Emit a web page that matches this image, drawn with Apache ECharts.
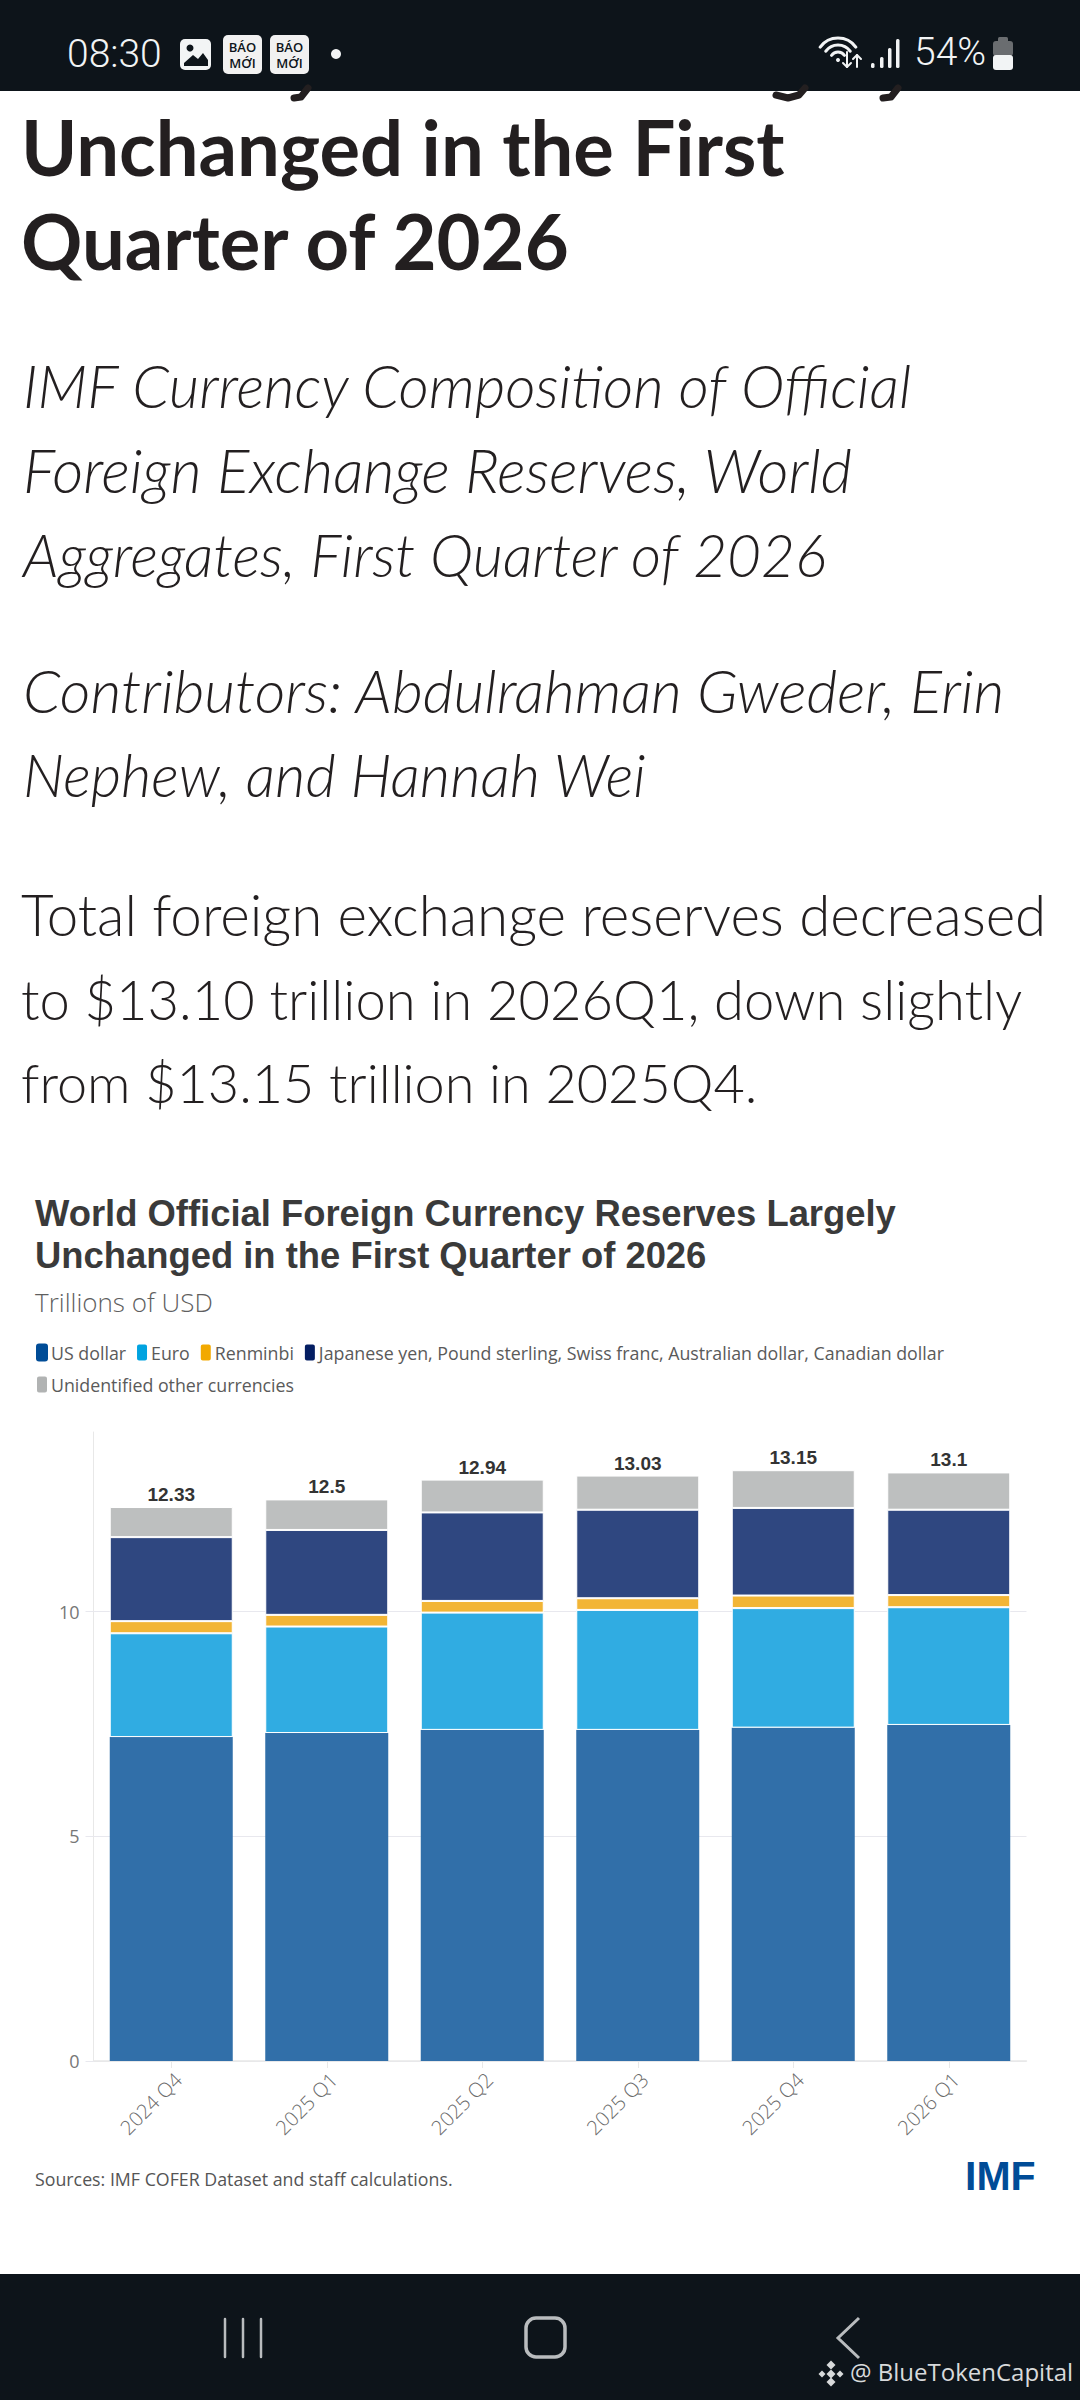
<!DOCTYPE html>
<html><head><meta charset="utf-8">
<style>html,body{margin:0;padding:0;background:#fff}#c{width:1080px;height:2400px}</style>
<script src="https://cdn.jsdelivr.net/npm/echarts@6/dist/echarts.min.js"></script>
</head><body><div id="c"></div>
<script>
const categories = ['2024 Q4','2025 Q1','2025 Q2','2025 Q3','2025 Q4','2026 Q1'];
const usDollar = [7.21,7.30,7.37,7.37,7.42,7.48];
const euro = [2.31,2.37,2.61,2.67,2.66,2.62];
const renminbi = [0.27,0.26,0.26,0.26,0.28,0.27];
const otherMajor = [1.87,1.89,1.97,1.97,1.95,1.90];
const unidentified = [0.67,0.68,0.73,0.76,0.84,0.83];
const totals = [12.33,12.5,12.94,13.03,13.15,13.1];
const seriesNames = ['US dollar','Euro','Renminbi','Japanese yen, Pound sterling, Swiss franc, Australian dollar, Canadian dollar','Unidentified other currencies'];
const barColors = ['#316FA9','#30ACE2','#F2B535','#2F4780','#BDBFBF'];
const legendColors = ['#004C97','#00A3E0','#F2A900','#041E62','#B1B3B3'];
const articleHeading = [['Unchanged in the First',178],['Quarter of 2026',272]];
const articleItalic = [['IMF Currency Composition of Official',410,59],['Foreign Exchange Reserves, World',494,60.4],['Aggregates, First Quarter of 2026',578,58.6],['Contributors: Abdulrahman Gweder, Erin',715,59.7],['Nephew, and Hannah Wei',799,58.7]];
const articleBody = [['Total foreign exchange reserves decreased',937,56.5],['to $13.10 trillion in 2026Q1, down slightly',1021,54.3],['from $13.15 trillion in 2025Q4.',1105,54]];

const DARK='#0D141A', WHITE='#F2F4F5', INK='#231F20', F='Lato, "Open Sans", sans-serif', CF='"Open Sans", sans-serif';
function txt(x,y,text,size,o){o=o||{};return {type:'text',x:x,y:y+size*0.09,z:o.z||5,style:{text:text,fontSize:size,fontFamily:o.f||F,fontWeight:o.w||400,fontStyle:o.s||'normal',fill:o.c||INK,textVerticalAlign:'bottom',textBaseline:'alphabetic',textAlign:o.a||'left',lineHeight:o.lh}};}
function rect(x,y,w,h,c,r,z){return {type:'rect',z:z||10,shape:{x:x,y:y,width:w,height:h,r:r||0},style:{fill:c}};}
function line(x1,y1,x2,y2,c,w){return {type:'line',z:12,shape:{x1:x1,y1:y1,x2:x2,y2:y2},style:{stroke:c,lineWidth:w,lineCap:'round',fill:null}};}
function arc(cx,cy,r,c,w){return {type:'arc',z:12,shape:{cx:cx,cy:cy,r:r,startAngle:-Math.PI*0.80,endAngle:-Math.PI*0.20,clockwise:true},style:{stroke:c,lineWidth:w,fill:null,lineCap:'round'}};}
function poly(pts,c,w){return {type:'polyline',z:12,shape:{points:pts},style:{fill:null,stroke:c,lineWidth:w,lineCap:'round',lineJoin:'round'}};}
function diamond(cx,cy,r,c){return {type:'polygon',z:13,shape:{points:[[cx,cy-r],[cx+r,cy],[cx,cy+r],[cx-r,cy]]},style:{fill:c}};}
const g=[];
// article text
articleHeading.forEach(a=>g.push(txt(21,a[1],a[0],76,{w:700})));
articleItalic.forEach(a=>g.push(txt(23,a[1],a[0],a[2],{s:'italic',w:300})));
articleBody.forEach(a=>g.push(txt(21,a[1],a[0],a[2],{w:300})));
// descender tips of the heading line scrolled under the status bar
g.push(poly([[308,88],[301,97],[294,98]],INK,7));
g.push(poly([[805,88],[799,95],[788,98],[776,95]],INK,7));
g.push(poly([[898,88],[891,97],[883,98]],INK,7));
// bars of the phone UI
g.push(rect(0,0,1080,91,DARK,0,10));
g.push(rect(0,2274,1080,126,DARK,0,10));
// status bar left
g.push(txt(67,69.5,'08:30',39,{c:WHITE,z:12,f:'Roboto, sans-serif',w:300}));
g.push(rect(180,39,31,31,WHITE,5,12));
g.push({type:'polygon',z:13,shape:{points:[[184,66],[184,63],[193,55],[198,59],[203,53],[208,60],[208,66]]},style:{fill:DARK}});
g.push({type:'circle',z:13,shape:{cx:190,cy:48,r:3.5},style:{fill:DARK}});
[223,270].forEach(x=>{g.push(rect(x,35,39,39,'#F1F1F1',5,12));
  g.push(txt(x+19.5,52,'BÁO',13,{c:DARK,z:13,a:'center',f:CF,w:600}));
  g.push(txt(x+19.5,68,'MỚI',13,{c:DARK,z:13,a:'center',f:CF,w:600}));});
g.push({type:'circle',z:12,shape:{cx:336,cy:54,r:5},style:{fill:WHITE}});
// status bar right
[[22,3.2],[15,3.2],[8,3]].forEach(a=>g.push(arc(838,60,a[0],WHITE,a[1])));
g.push({type:'circle',z:12,shape:{cx:838,cy:60,r:2},style:{fill:WHITE}});
g.push(poly([[847,52],[847,67],[843,63]],WHITE,2));g.push(poly([[847,67],[851,63]],WHITE,2));
g.push(poly([[857,67],[857,55],[853,59]],WHITE,2));g.push(poly([[857,55],[861,59]],WHITE,2));
[[871,63],[880,57],[888,48],[896,39]].forEach(b=>g.push(rect(b[0],b[1],3.5,68-b[1],WHITE,1.5,12)));
g.push(txt(914,67.5,'54%',39,{c:WHITE,z:12,f:'Roboto, sans-serif',w:300}));
g.push(rect(998,37,10,5,'#6A6D70',1.5,12));
g.push(rect(993,41,20,15,'#6A6D70',3,12));
g.push(rect(993,55,20,15,WHITE,3,12));
// nav bar
[225,243,261].forEach(x=>g.push(line(x,2319,x,2357,'#B9BCBE',2.5)));
g.push({type:'rect',z:12,shape:{x:526,y:2318,width:39,height:39,r:10},style:{fill:null,stroke:'#B9BCBE',lineWidth:3.5}});
g.push({type:'polyline',z:12,shape:{points:[[859,2318],[838,2338],[859,2358]]},style:{fill:null,stroke:'#B9BCBE',lineWidth:3}});
[[831,2365,4.5],[831,2382,4.5],[822,2374,3.5],[840,2374,3.5],[831,2374,4.5]].forEach(d=>g.push(diamond(d[0],d[1],d[2],'#D8DADB')));
g.push(txt(850,2381,'@ BlueTokenCapital',24,{c:'#D8DADB',z:13,f:CF}));
// chart header & footer
g.push(txt(35,1228,'World Official Foreign Currency Reserves Largely',36.4,{w:700,c:'#3A3A3A',f:'"Liberation Sans"'}));
g.push(txt(35,1270,'Unchanged in the First Quarter of 2026',36.4,{w:700,c:'#3A3A3A',f:'"Liberation Sans"'}));
g.push(txt(35,1313,'Trillions of USD',26,{w:300,c:'#5F5F5F',f:CF}));
g.push(txt(35,2186,'Sources: IMF COFER Dataset and staff calculations.',17.8,{c:'#555',f:CF}));
g.push(txt(965,2193,'IMF',41,{w:700,c:'#004C97',f:'"Liberation Sans"'}));

const data=[usDollar,euro,renminbi,otherMajor,unidentified];
const option={
  animation:false,backgroundColor:'#fff',
  legend:{left:35,top:1341,width:1000,itemWidth:12,itemHeight:18,itemGap:9,padding:0,icon:'roundRect',
    textStyle:{fontSize:17.8,lineHeight:23,color:'#5A5A5A',fontFamily:CF,padding:[0,0,0,-2]},selectedMode:false,
    data:seriesNames.map((n,i)=>({name:n,icon:'roundRect',itemStyle:{color:legendColors[i]}}))},
  grid:{left:93.5,right:53.5,top:1432,height:629,containLabel:false},
  xAxis:{type:'category',data:categories,
    axisLine:{lineStyle:{color:'#E8E8E8',width:1.5}},axisTick:{show:true,alignWithLabel:true,length:7,lineStyle:{color:'#E8E8E8'}},
    axisLabel:{rotate:45,fontSize:20,color:'#6A6A6A',fontFamily:CF,fontWeight:300,margin:8,interval:0,verticalAlign:'top'}},
  yAxis:{type:'value',min:0,max:14,interval:5,
    axisLine:{show:true,lineStyle:{color:'#E8E8E8'}},axisTick:{show:true,length:8,lineStyle:{color:'#E8E8EE'}},
    splitLine:{show:true,showMaxLine:false,lineStyle:{color:'#E8E8EE'}},
    axisLabel:{fontSize:18,color:'#777',fontFamily:CF,margin:14,showMaxLabel:false}},
  series:seriesNames.map((n,i)=>({
    name:n,type:'bar',stack:'t',barWidth:123,data:data[i],z:3,
    itemStyle:{color:barColors[i],borderColor:'#fff',borderWidth:i===0?0:1},
    label:i===4?{show:true,position:'top',distance:3,fontSize:19,fontWeight:700,color:'#333',fontFamily:'"Liberation Sans", sans-serif',
      formatter:p=>String(totals[p.dataIndex])}:{show:false}
  })),
  graphic:{elements:g}
};
const chart=echarts.init(document.getElementById('c'),null,{renderer:'svg',width:1080,height:2400});
chart.setOption(option);
</script></body></html>
